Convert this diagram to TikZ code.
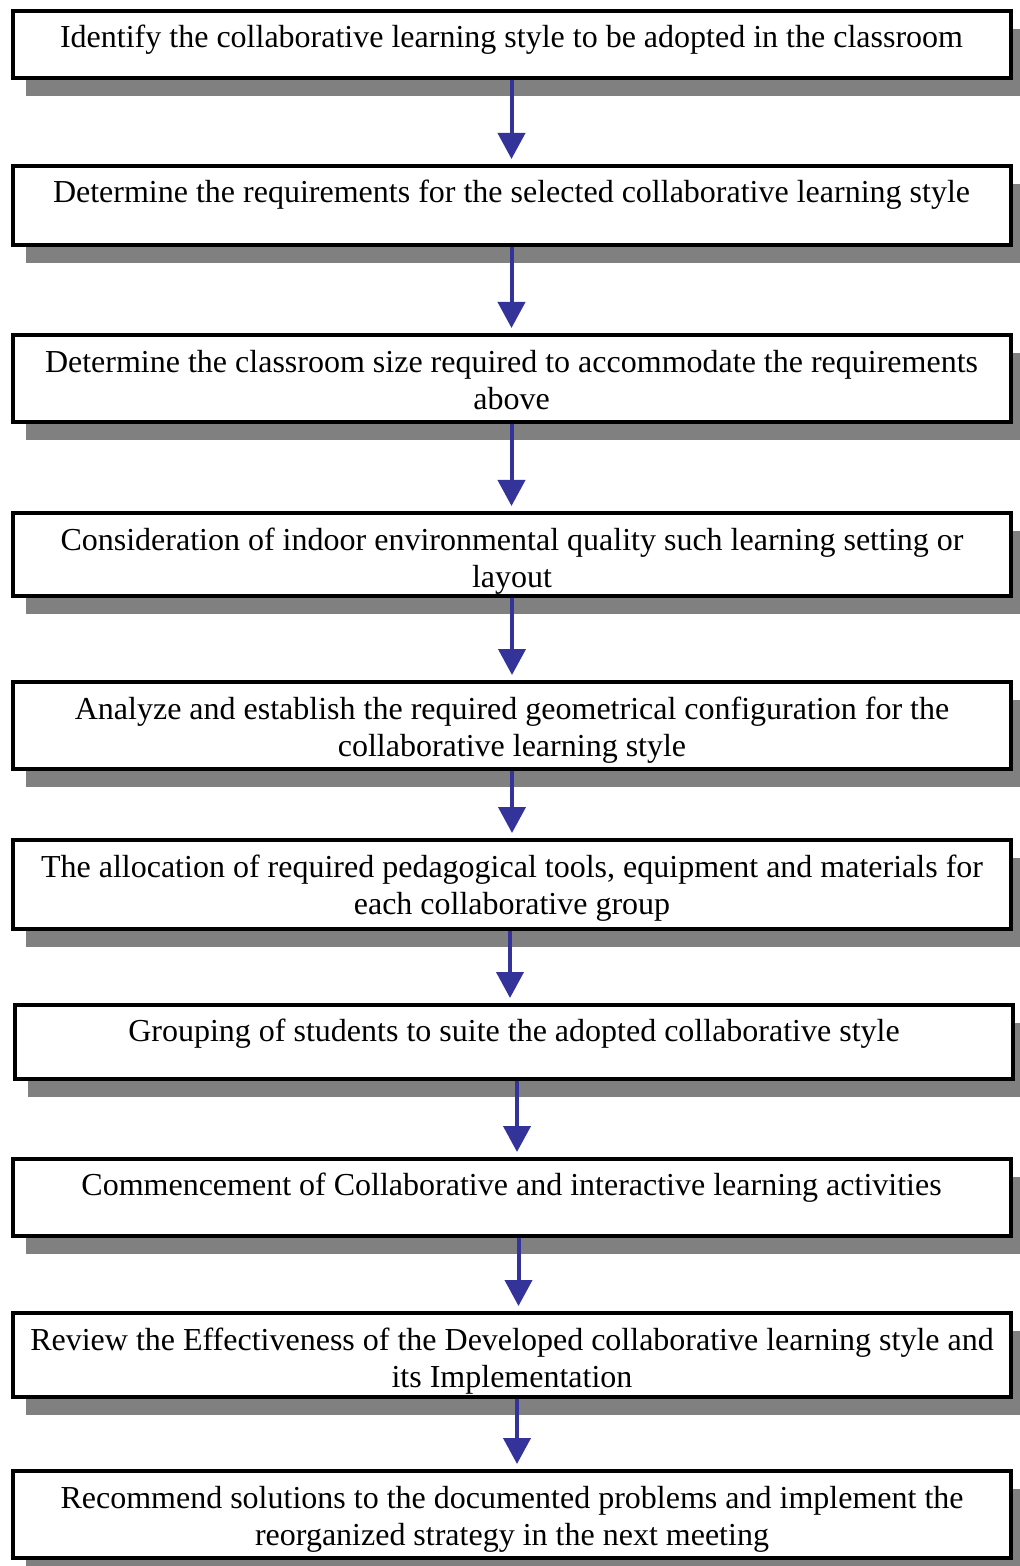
\documentclass[tikz,border=0pt]{standalone}
\usepackage{fontspec}
\setmainfont{Liberation Serif}
\usetikzlibrary{arrows.meta,shadows}

\definecolor{flowblue}{RGB}{51,51,153}
\definecolor{shadegray}{RGB}{128,128,128}

\begin{document}
\begin{tikzpicture}[
  x=0.5pt,y=-0.5pt,
  font=\fontsize{16}{18.5}\selectfont,
  stepbox/.style={draw,line width=2pt,fill=white,minimum width=499pt,inner sep=0pt,
    drop shadow={shadow xshift=6.5pt,shadow yshift=-9pt,fill=shadegray,opacity=1}},
  steptext/.style={align=center,inner sep=0pt,anchor=north,execute at begin node=\strut},
  flow/.style={draw=flowblue,line width=2pt,-{Triangle[length=13pt,width=13.5pt]},
    shorten >=2.5pt}
]
\useasboundingbox (0,0) rectangle (1019,1566);

% -------------------------
% Boxes (pixel coordinates, y downwards)
% -------------------------
\node[stepbox,minimum height=33.5pt] (b1)  at (511.5,44.5)  {};
\node[stepbox,minimum height=39.5pt] (b2)  at (511.5,205.5) {};
\node[stepbox,minimum height=43.5pt] (b3)  at (511.5,378.5) {};
\node[stepbox,minimum height=41.5pt] (b4)  at (512,554.5)   {};
\node[stepbox,minimum height=43.5pt] (b5)  at (512,725.5)   {};
\node[stepbox,minimum height=44.5pt] (b6)  at (512,884.5)   {};
\node[stepbox,minimum height=37pt]   (b7)  at (514,1042)    {};
\node[stepbox,minimum height=38.5pt] (b8)  at (511.5,1197.5){};
\node[stepbox,minimum height=42pt]   (b9)  at (512,1355)    {};
\node[stepbox,minimum height=43.5pt] (b10) at (512,1514.5)  {};

% -------------------------
% Texts
% -------------------------
\node[steptext] (t1) at ([yshift=-6pt]b1.north)
  {Identify the collaborative learning style to be adopted in the classroom};
\node[steptext] (t2) at ([yshift=-6pt]b2.north)
  {Determine the requirements for the selected collaborative learning style};
\node[steptext] (t3) at ([yshift=-8.5pt]b3.north)
  {Determine the classroom size required to accommodate the requirements\\above};
\node[steptext] (t4) at ([yshift=-8.5pt]b4.north)
  {Consideration of indoor environmental quality such learning setting or\\layout};
\node[steptext] (t5) at ([yshift=-8.5pt]b5.north)
  {Analyze and establish the required geometrical configuration for the\\collaborative learning style};
\node[steptext] (t6) at ([yshift=-8.5pt]b6.north)
  {The allocation of required pedagogical tools, equipment and materials for\\each collaborative group};
\node[steptext] (t7) at ([yshift=-6pt]b7.north)
  {Grouping of students to suite the adopted collaborative style};
\node[steptext] (t8) at ([yshift=-6pt]b8.north)
  {Commencement of Collaborative and interactive learning activities};
\node[steptext] (t9) at ([yshift=-8.5pt]b9.north)
  {Review the Effectiveness of the Developed collaborative learning style and\\its Implementation};
\node[steptext] (t10) at ([yshift=-8.5pt]b10.north)
  {Recommend solutions to the documented problems and implement the\\reorganized strategy in the next meeting};

% -------------------------
% Arrows
% -------------------------
\foreach \u/\v/\dx in {b1/b2/0,b2/b3/0,b3/b4/0,b4/b5/0,b5/b6/0,
                       b6/b7/-1,b7/b8/1.5,b8/b9/3.5,b9/b10/2.5} {
  \draw[flow] ([xshift=\dx pt]\u.south) -- ([xshift=\dx pt]\u.south |- \v.north);
}

\end{tikzpicture}
\end{document}
